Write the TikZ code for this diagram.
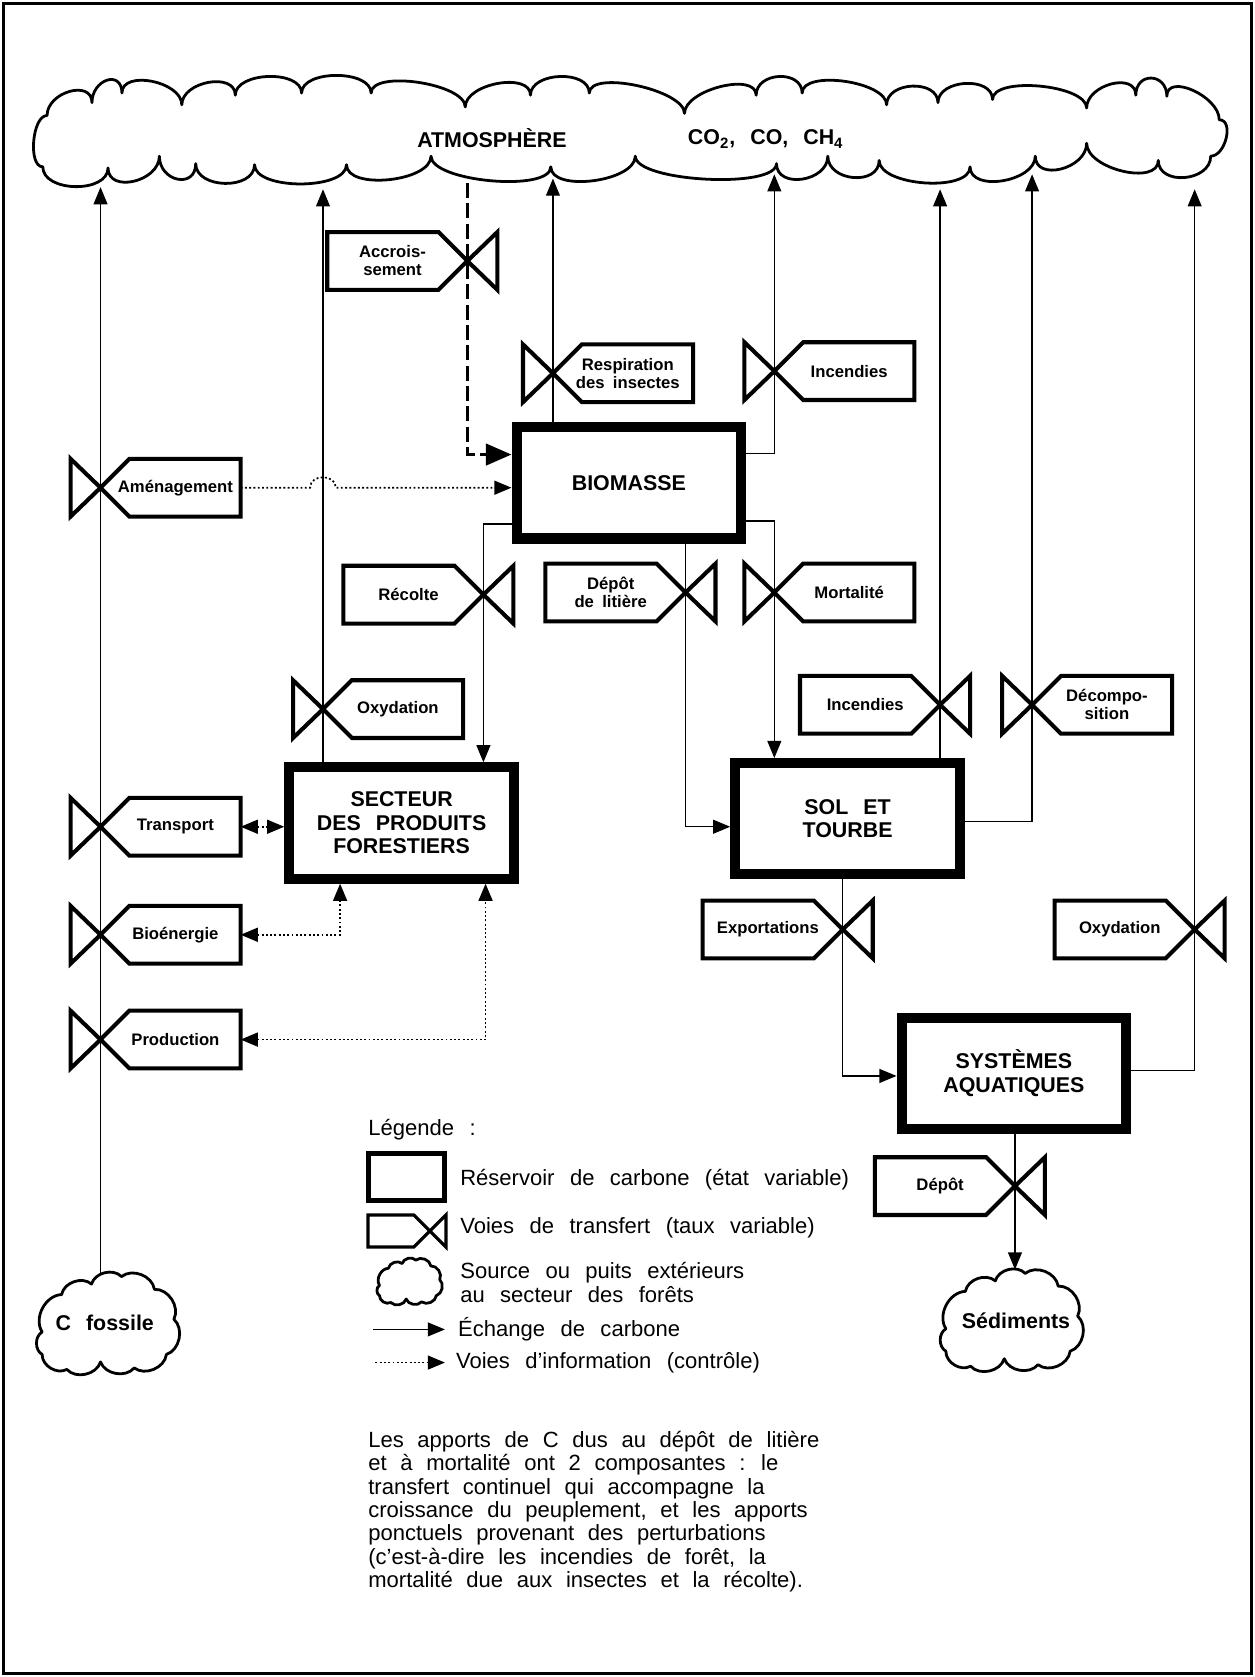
\documentclass[tikz,border=0pt]{standalone}
\usepackage{fontspec}
\setmainfont{Liberation Sans}
\usetikzlibrary{arrows.meta}

\newcommand{\boxfont}{\fontsize{10}{11}\selectfont\bfseries\spaceskip=.7em plus .1em\relax}
\newcommand{\valvefont}{\fontsize{7.8}{8.4}\selectfont\bfseries\spaceskip=.5em plus .1em\relax}
\newcommand{\notefont}{\fontsize{10.3}{10.9}\selectfont\spaceskip=.62em plus .1em\relax}
\newcommand{\legfont}{\fontsize{10.3}{11.5}\selectfont\spaceskip=.7em plus .1em\relax}

\tikzset{
  reservoir/.style={draw, line width=4.75pt, minimum width=105pt, minimum height=52pt,
    inner sep=0pt, align=center, font=\boxfont},
  cloudtext/.style={font=\boxfont, inner sep=0pt},
  valvebox/.style={line width=1.9pt},
  valvetext/.style={font=\valvefont, align=center, inner sep=0pt},
  legtext/.style={font=\legfont, anchor=west, inner sep=0pt},
  carbonflow/.style={line width=0.6pt, ->},
  infoline/.style={line width=0.8pt, dash pattern=on 0.9pt off 1.1pt},
  growth/.style={line width=1.6pt, dash pattern=on 7pt off 2.5pt,
    -{Triangle[length=12pt,width=10pt]}},
  cloudline/.style={line width=1.3pt, line join=round},
  puff/.pic={
    \draw[cloudline] (-0.88,0.12) to[bend left=60] (-0.62,-0.38)
      to[bend left=60] (-0.22,-0.52) to[bend left=60] (0.18,-0.62)
      to[bend left=60] (0.62,-0.45) to[bend left=60] (0.88,-0.05)
      to[bend left=60] (0.78,0.42) to[bend left=60] (0.35,0.6)
      to[bend left=60] (-0.1,0.52) to[bend left=60] (-0.55,0.62)
      to[bend left=60] (-0.88,0.42) to[bend left=60] (-0.88,0.12) -- cycle;
  }
}

% transfer valve: name, centre, side of the label (1 = right, -1 = left), label
\newcommand{\valve}[4]{%
  \begin{scope}[shift={(#2)}, xscale=#3]
    \coordinate (#1) at (0,0);
    \coordinate (#1-end) at (131,0);
    \draw[valvebox] (0,0) -- (27,-27) -- (131,-27) -- (131,27) -- (27,27)
      -- (0,0) -- (-28,-27) -- (-28,27) -- cycle;
    \node[valvetext] (#1-t) at (70,0) {#4};
  \end{scope}}

\begin{document}
\begin{tikzpicture}[x=0.5pt, y=-0.5pt, >={Triangle[length=8pt,width=6.5pt]}]
  \useasboundingbox (0,0) rectangle (1173,1568);
  % Frame
  \draw[line width=1.4pt] (3,3) rectangle (1170,1565);

  % Atmosphere
  \draw[cloudline] (40,156) .. controls +(-14,0) and +(-14,0) .. (44,108)
    foreach \x/\y in {86/96, 114/87, 170/98, 220/89, 282/87, 347/87, 435/100,
      496/89, 551/87, 640/106, 707/89, 750/87, 829/98, 877/96, 928/93,
      1016/101, 1062/89, 1091/90, 1140/112}
      { .. controls +(0,-22) and +(0,-22) .. (\x,\y) }
    .. controls +(14,0) and +(14,0) .. (1132,146)
    foreach \x/\y in {1083/150, 1016/134, 968/146, 907/156, 822/150, 774/146,
      726/153, 594/146, 515/156, 403/146, 324/154, 238/154, 183/153, 149/146,
      101/157, 40/156}
      { .. controls +(0,24) and +(0,24) .. (\x,\y) }
    -- cycle;
  \node[cloudtext] (atmo) at (460,129) {ATMOSPHÈRE};
  \node[cloudtext] (gases) at (716,130) {CO\textsubscript{2}, CO, CH\textsubscript{4}};
  \coordinate (in1) at (94,175);
  \coordinate (in2) at (302,177);
  \coordinate (in3) at (517,167);
  \coordinate (in4) at (724,163);
  \coordinate (in5) at (879,177);
  \coordinate (in6) at (965,163);
  \coordinate (in7) at (1117,177);
  \coordinate (in-accr) at (437,171);

  % Reservoirs
  \node[reservoir] (biomasse) at (588,451.5) {BIOMASSE};
  \node[reservoir] (secteur) at (375.5,769.5) {SECTEUR\\DES PRODUITS\\FORESTIERS};
  \node[reservoir] (sol) at (792.5,765.5) {SOL ET\\TOURBE};
  \node[reservoir] (syst) at (948,1003.5) {SYSTÈMES\\AQUATIQUES};

  % Outside sources and sinks
  \pic[scale=70] at (101,1237) {puff};
  \node[cloudtext] (fossil) at (98,1237) {C fossile};
  \coordinate (fossil-top) at (94,1192);
  \pic[scale=70] at (946,1234) {puff};
  \node[cloudtext] (sed) at (950,1235) {Sédiments};
  \coordinate (sed-top) at (949,1187);

  % Valves
  \valve{accr}{437,244}{-1}{Accrois-\\sement}
  \valve{resp}{517,349}{1}{Respiration\\des insectes}
  \valve{inc1}{724,347}{1}{Incendies}
  \valve{amen}{94,456}{1}{Aménagement}
  \valve{recol}{452,556}{-1}{Récolte}
  \valve{depot}{641,554}{-1}{Dépôt\\de litière}
  \valve{mort}{724,554}{1}{Mortalité}
  \valve{oxy1}{302,663}{1}{Oxydation}
  \valve{inc2}{879,659}{-1}{Incendies}
  \valve{decomp}{965,659}{1}{Décompo-\\sition}
  \valve{transp}{94,773}{1}{Transport}
  \valve{bioen}{94,874}{1}{Bioénergie}
  \valve{prod}{94,972}{1}{Production}
  \valve{export}{788,869}{-1}{Exportations}
  \valve{oxy2}{1117,869}{-1}{Oxydation}
  \valve{depot2}{949,1109}{-1}{Dépôt}

  % Carbon exchanges
  \draw[carbonflow] (fossil-top) -- (prod) -- (bioen) -- (transp) -- (amen) -- (in1);
  \draw[carbonflow] (oxy1 |- secteur.north) -- (oxy1) -- (in2);
  \draw[carbonflow] (resp |- biomasse.north) -- (resp) -- (in3);
  \draw[carbonflow] (biomasse.east |- 0,424) -| (inc1) -- (in4);
  \draw[carbonflow] (inc2 |- sol.north) -- (inc2) -- (in5);
  \draw[carbonflow] (sol.east |- 0,768) -| (decomp) -- (in6);
  \draw[carbonflow] (syst.east |- 0,1001) -| (oxy2) -- (in7);
  \draw[carbonflow] (biomasse.west |- 0,490) -| (recol) -- (recol |- secteur.north);
  \draw[carbonflow] (depot |- biomasse.south) -- (depot) |- (sol.west |- 0,773);
  \draw[carbonflow] (biomasse.east |- 0,487) -| (mort) -- (mort |- sol.north);
  \draw[carbonflow] (export |- sol.south) -- (export) |- (syst.west |- 0,1006);
  \draw[carbonflow] (depot2 |- syst.south) -- (depot2) -- (sed-top);
  \draw[growth] (in-accr) -- (accr) |- (biomasse.west |- 0,425);

  % Information paths
  \draw[infoline, ->] (amen-end) -- ([xshift=-6pt]oxy1 |- amen-end)
    .. controls +(0,-13) and +(0,-13) .. ([xshift=6pt]oxy1 |- amen-end)
    -- (biomasse.west |- amen-end);
  \draw[infoline, <->] (transp-end) -- (secteur.west |- transp-end);
  \draw[infoline, <->] (bioen-end) -| ([xshift=-28.75pt]secteur.south);
  \draw[infoline, <->] (prod-end) -| ([xshift=39.25pt]secteur.south);

  % Legend
  \node[legtext] (legtitle) at (344,1056) {Légende :};
  \node[reservoir, line width=2.5pt, minimum width=35.5pt, minimum height=22pt]
    (legres) at (380,1100.5) {};
  \node[legtext] (legres-t) at (430,1103) {Réservoir de carbone (état variable)};
  \coordinate (legval) at (402,1151);
  \draw[valvebox, line width=1.5pt] (legval) -- ++(-15,-15) -- ++(-43,0) -- ++(0,30)
    -- ++(43,0) -- (legval) -- ++(15,-15) -- ++(0,30) -- cycle;
  \node[legtext] (legval-t) at (430,1148) {Voies de transfert (taux variable)};
  \pic[scale=32] at (383,1198) {puff};
  \node[legtext, align=left]
    (legcld-t) at (430,1199) {Source ou puits extérieurs\\au secteur des forêts};
  \coordinate (legA) at (349,1243);
  \coordinate (legB) at (416,1243);
  \draw[carbonflow] (legA) -- (legB);
  \node[legtext] (legflow-t) at (428,1243) {Échange de carbone};
  \coordinate (legC) at (351,1274);
  \coordinate (legD) at (416,1274);
  \draw[infoline, ->] (legC) -- (legD);
  \node[legtext] (leginfo-t) at (426,1274) {Voies d’information (contrôle)};

  % Note
  \node[font=\notefont, align=left, anchor=north west, inner sep=0pt] (note) at (344,1338)
    {Les apports de C dus au dépôt de litière\\
     et à mortalité ont 2 composantes : le\\
     transfert continuel qui accompagne la\\
     croissance du peuplement, et les apports\\
     ponctuels provenant des perturbations\\
     (c’est-à-dire les incendies de forêt, la\\
     mortalité due aux insectes et la récolte).};
\end{tikzpicture}
\end{document}
